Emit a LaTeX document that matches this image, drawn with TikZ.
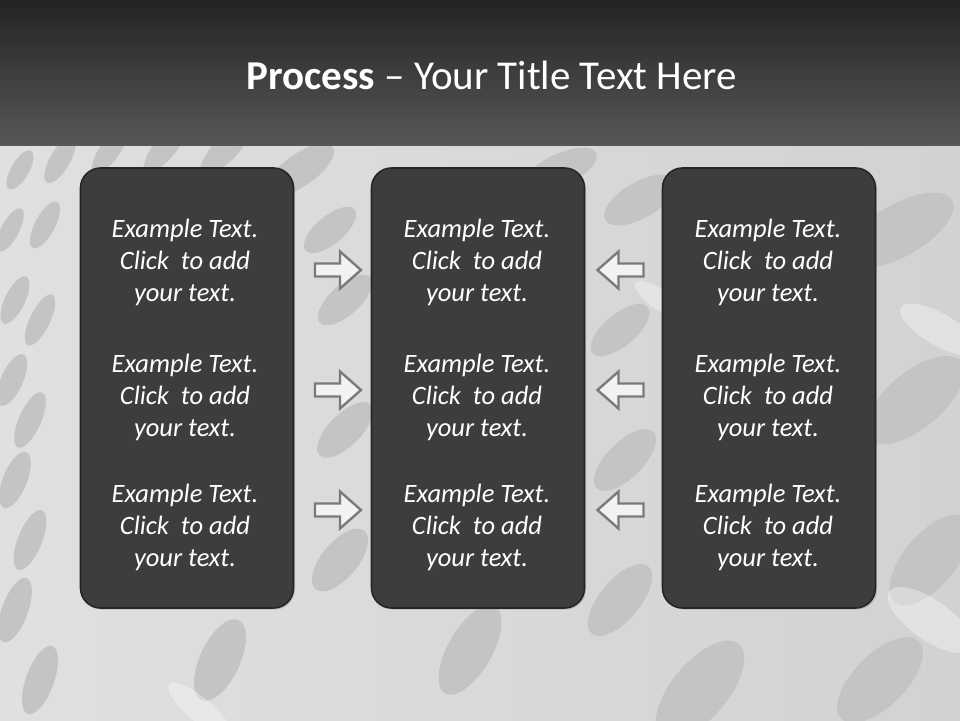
\documentclass[tikz,border=0pt]{standalone}
\usepackage{fontspec}
\setmainfont{Carlito}
\usetikzlibrary{shadows}
\definecolor{bgl}{HTML}{E0E0E0}
\definecolor{bgr}{HTML}{D2D2D2}
\definecolor{ell}{HTML}{C4C4C4}
\definecolor{boxfill}{HTML}{3D3D3D}
\definecolor{boxline}{HTML}{262626}
\definecolor{arrfill}{HTML}{F2F2F2}
\definecolor{arrline}{HTML}{7A7A7A}
\tikzset{
  panel/.style={draw=boxline, line width=1.6pt, fill=boxfill, rounded corners=20pt,
    minimum width=213pt, minimum height=440pt, inner sep=0pt,
    drop shadow={shadow xshift=1.5pt, shadow yshift=-1.5pt, opacity=0.35}},
  txt/.style={align=center, text=white, font=\fontsize{26.5}{32}\selectfont\itshape},
  txtsh/.style={align=center, text=black!75, opacity=0.55, font=\fontsize{26.5}{32}\selectfont\itshape},
  arrstyle/.style={draw=arrline, line width=2.4pt, fill=arrfill, line join=miter},
  blockarrow/.pic={\draw[arrstyle] (-23,-6.5) -- (2,-6.5) -- (2,-18.5) -- (23,0) -- (2,18.5) -- (2,6.5) -- (-23,6.5) -- cycle;},
}
\begin{document}
\begin{tikzpicture}[x=1pt,y=-1pt]
\useasboundingbox (0,0) rectangle (960,720);
% background
\shade[left color=bgl, right color=bgr] (0,145) rectangle (960,720);
\begin{scope}
\clip (0,145) rectangle (960,720);
\foreach \cx/\cy/\a/\b/\r in {
  20/170/22/9/60, 60/160/26/10/60, 110/150/28/10/55, 165/148/30/11/50, 225/150/32/12/45,
  10/230/24/9/62, 45/225/26/10/62, 15/300/26/10/64, 40/320/28/10/64, 12/380/28/11/66, 30/420/30/11/66,
  15/480/30/12/68, 30/540/32/12/68, 15/610/34/13/70, 40/680/36/14/70, 300/170/40/16/35,
  330/230/32/14/40, 345/300/34/15/42, 345/430/36/16/45, 340/560/38/18/50,
  640/200/40/18/30, 620/330/36/16/40, 625/460/40/18/45, 620/600/44/20/50,
  470/650/50/22/60, 220/660/44/20/65, 700/690/60/28/50, 900/230/60/26/30, 915/400/60/28/40,
  930/560/55/26/50, 880/680/55/26/45, 560/170/40/16/25}
  \fill[ell, rotate around={\r:(\cx,\cy)}] (\cx,\cy) ellipse ({\a pt} and {\b pt});
\foreach \cx/\cy/\a/\b/\r in {940/330/45/16/-30, 930/620/50/20/-35, 660/300/30/10/-35, 200/710/40/12/-40}
  \fill[white, opacity=0.35, rotate around={\r:(\cx,\cy)}] (\cx,\cy) ellipse ({\a pt} and {\b pt});
\end{scope}
% title bar
\shade[top color={black!86}, bottom color={black!66}] (0,0) rectangle (960,145);
\node[text=white, font=\fontsize{41}{48}\selectfont] (title) at (492,75)
  {\textbf{Process} -- Your Title Text Here};
% panels
\node[panel] (b1) at (187,388) {};
\node[panel] (b2) at (478,388) {};
\node[panel] (b3) at (769,388) {};
% texts
\foreach \p/\x in {1/185,2/477,3/768}{
  \foreach \q/\y in {1/262,2/397,3/527}{
    \node[txtsh] (s\p\q) at (\x+1.5,\y+1.8) {Example Text.\\Click\ \ to add\\your text.};
    \node[txt] (t\p\q) at (\x,\y) {Example Text.\\Click\ \ to add\\your text.};
  }
}
% arrows
\foreach \q/\y in {1/270,2/390,3/510}{
  \coordinate (r\q) at (338,\y);
  \coordinate (l\q) at (620.5,\y);
  \pic at (r\q) {blockarrow};
  \pic[xscale=-1] at (l\q) {blockarrow};
}
\end{tikzpicture}
\end{document}
